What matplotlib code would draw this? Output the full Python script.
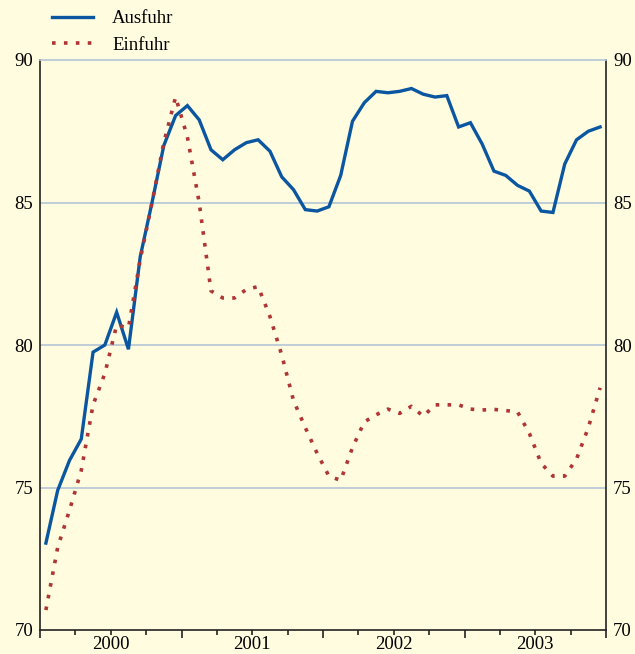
#!/usr/bin/env python3
"""Ausfuhr / Einfuhr monthly index, 2000-2003."""

import matplotlib
matplotlib.use("Agg")
import matplotlib.pyplot as plt
from matplotlib.ticker import FixedLocator, FuncFormatter

# ── data: monthly values Jan 2000 .. Dec 2003 ───────────────────────
years = [2000, 2001, 2002, 2003]
ausfuhr = [
    73.05, 74.9, 75.95, 76.7, 79.75, 80.0, 81.15, 79.85, 83.1, 85.0, 87.0, 88.05,
    88.4, 87.9, 86.85, 86.5, 86.85, 87.1, 87.2, 86.8, 85.9, 85.45, 84.75, 84.7,
    84.85, 85.95, 87.85, 88.5, 88.9, 88.85, 88.9, 89.0, 88.8, 88.7, 88.75, 87.65,
    87.8, 87.05, 86.1, 85.95, 85.6, 85.4, 84.7, 84.65, 86.35, 87.2, 87.5, 87.65,
]
einfuhr = [
    70.7, 72.9, 74.2, 75.6, 77.9, 79.0, 80.7, 80.6, 83.0, 85.0, 87.1, 88.7,
    87.3, 85.0, 81.9, 81.65, 81.65, 81.95, 82.05, 81.0, 79.65, 78.05, 77.1, 76.2,
    75.4, 75.25, 76.4, 77.3, 77.55, 77.75, 77.6, 77.85, 77.5, 77.9, 77.9, 77.9,
    77.75, 77.72, 77.74, 77.7, 77.65, 76.9, 75.85, 75.4, 75.4, 76.0, 77.1, 78.5,
]

months = [i + 0.5 for i in range(len(ausfuhr))]

bg = "#FFFCE0"
clr_aus = "#0A56A0"
clr_ein = "#B03535"
grid_clr = "#B4C6D6"
fs = 13.5

plt.rcParams["font.family"] = ["Liberation Serif", "DejaVu Serif"]

fig = plt.figure(figsize=(6.35, 6.54), dpi=100, facecolor=bg)
ax = fig.add_axes([40 / 635, 1 - 630 / 654, 566 / 635, 570 / 654])
ax.set_facecolor(bg)

ax.plot(months, ausfuhr, color=clr_aus, lw=2.4, solid_joinstyle="miter",
        label="Ausfuhr", zorder=3)
ax.plot(months, einfuhr, color=clr_ein, lw=2.6, ls=(0, (1, 2.3)),
        dash_capstyle="butt", label="Einfuhr", zorder=4)

ax.set_xlim(0, 48)
ax.set_ylim(70, 90)

for y in [75, 80, 85]:
    ax.axhline(y, color=grid_clr, lw=1.2, zorder=1)

ax.spines["top"].set_color(grid_clr)
ax.spines["top"].set_linewidth(1.2)
for s in ["left", "right", "bottom"]:
    ax.spines[s].set_color("#222222")
    ax.spines[s].set_linewidth(1.2)

# x axis: long ticks at year bounds, short at quarters, year label mid-year
ax.xaxis.set_major_locator(FixedLocator([0, 12, 24, 36, 48]))
ax.xaxis.set_major_formatter(FuncFormatter(lambda v, p: ""))
quarters = [q for q in range(3, 48, 3) if q % 12 != 0]
ax.xaxis.set_minor_locator(FixedLocator(quarters))
ax.xaxis.set_minor_formatter(
    FuncFormatter(lambda v, p: str(years[int(v) // 12]) if int(v) % 12 == 6 else ""))
ax.tick_params(axis="x", which="major", length=6, width=1.2, color="#222222")
ax.tick_params(axis="x", which="minor", length=3.5, width=1.2, color="#222222",
               labelsize=fs, pad=1.0)

ax.set_yticks([70, 75, 80, 85, 90])
ax.tick_params(axis="y", which="both", length=0, labelsize=fs, pad=5,
               labelleft=True, labelright=True, left=False, right=False)

leg = ax.legend(loc="upper left", bbox_to_anchor=(52 / 635, 1 - 10 / 654),
                bbox_transform=fig.transFigure, frameon=False, fontsize=fs,
                handlelength=2.2, handletextpad=1.0, labelspacing=0.5,
                borderaxespad=0, borderpad=0)

fig.savefig("out.png", dpi=100, facecolor=bg)
plt.close(fig)
